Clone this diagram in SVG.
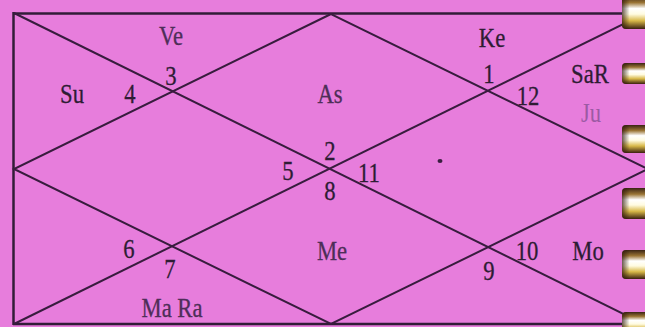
<svg xmlns="http://www.w3.org/2000/svg" width="645" height="327" viewBox="0 0 645 327">
<style>
.t{font-family:"Liberation Serif","Times New Roman",serif;font-size:27px;fill:#2e1c34;stroke:#2e1c34;stroke-width:0.3;text-anchor:middle}
.f{fill:#4e2e58;stroke:#4e2e58}
.ff{fill:#9c5aa4;stroke:none}
.ln{stroke:#381c3e;stroke-width:2;fill:none}
.fr{stroke:#321c38;stroke-width:2.5;fill:none}
</style>
<defs>
<linearGradient id="ring" x1="0" y1="0" x2="0" y2="1">
<stop offset="0" stop-color="#3a2414"/>
<stop offset="0.2" stop-color="#9a7434"/>
<stop offset="0.38" stop-color="#ffffff"/>
<stop offset="0.55" stop-color="#fffbe0"/>
<stop offset="0.75" stop-color="#d8b848"/>
<stop offset="1" stop-color="#3a2010"/>
</linearGradient>
<linearGradient id="shade" x1="0" y1="0" x2="1" y2="0">
<stop offset="0" stop-color="#2a1408" stop-opacity="0.7"/>
<stop offset="0.25" stop-color="#2a1408" stop-opacity="0"/>
</linearGradient>
</defs>
<rect width="645" height="327" fill="#e77ddc"/>
<g id="connectors">
<line class="fr" x1="13" y1="13.5" x2="624" y2="13.5" stroke-width="3.5"/>
<line class="fr" x1="13.5" y1="12" x2="13.5" y2="325"/>
<line class="fr" x1="13" y1="324" x2="624" y2="324"/>
<line class="ln" x1="14" y1="13" x2="648" y2="326"/>
<line class="ln" x1="14" y1="324" x2="648" y2="12"/>
<polygon class="ln" points="331,14 14,169 331,324 648,169"/>
</g>
<g id="house1"><text class="t" transform="translate(492,47) scale(0.84,1)">Ke</text><text class="t" transform="translate(489,83) scale(0.84,1)">1</text></g>
<g id="house12"><text class="t" transform="translate(590,83) scale(0.84,1)">SaR</text><text class="t ff" transform="translate(591,122) scale(0.84,1)">Ju</text><text class="t" transform="translate(528,105) scale(0.84,1)">12</text></g>
<g id="house2"><text class="t f" transform="translate(330,103) scale(0.84,1)">As</text><text class="t" transform="translate(330,160) scale(0.84,1)">2</text></g>
<g id="house3"><text class="t f" transform="translate(171,45) scale(0.84,1)">Ve</text><text class="t" transform="translate(171,85) scale(0.84,1)">3</text></g>
<g id="house4"><text class="t" transform="translate(72,103) scale(0.84,1)">Su</text><text class="t" transform="translate(130,103) scale(0.84,1)">4</text></g>
<g id="house5"><text class="t" transform="translate(288,180) scale(0.84,1)">5</text></g>
<g id="house11"><text class="t" transform="translate(369,182) scale(0.84,1)">11</text></g>
<g id="house8"><text class="t" transform="translate(330,200) scale(0.84,1)">8</text><text class="t f" transform="translate(332,260) scale(0.84,1)">Me</text></g>
<g id="house6"><text class="t" transform="translate(129,258) scale(0.84,1)">6</text></g>
<g id="house7"><text class="t" transform="translate(170,278) scale(0.84,1)">7</text><text class="t f" transform="translate(172,317) scale(0.84,1)">Ma Ra</text></g>
<g id="house10"><text class="t" transform="translate(527,260) scale(0.84,1)">10</text><text class="t" transform="translate(588,260) scale(0.84,1)">Mo</text></g>
<g id="house9"><text class="t" transform="translate(489,280) scale(0.84,1)">9</text></g>
<ellipse cx="440" cy="161" rx="2.5" ry="2" fill="#3a1e40"/>
<g id="binding">
<rect x="622" y="-4" width="30" height="33" rx="4" fill="url(#ring)"/>
<rect x="622" y="63" width="30" height="21" rx="4" fill="url(#ring)"/>
<rect x="622" y="125" width="30" height="28" rx="4" fill="url(#ring)"/>
<rect x="622" y="188" width="30" height="31" rx="4" fill="url(#ring)"/>
<rect x="622" y="250" width="30" height="29" rx="4" fill="url(#ring)"/>
<rect x="622" y="312" width="30" height="22" rx="4" fill="url(#ring)"/>
<rect x="622" y="-4" width="30" height="33" rx="4" fill="url(#shade)"/>
<rect x="622" y="63" width="30" height="21" rx="4" fill="url(#shade)"/>
<rect x="622" y="125" width="30" height="28" rx="4" fill="url(#shade)"/>
<rect x="622" y="188" width="30" height="31" rx="4" fill="url(#shade)"/>
<rect x="622" y="250" width="30" height="29" rx="4" fill="url(#shade)"/>
<rect x="622" y="312" width="30" height="22" rx="4" fill="url(#shade)"/>
</g>
</svg>
